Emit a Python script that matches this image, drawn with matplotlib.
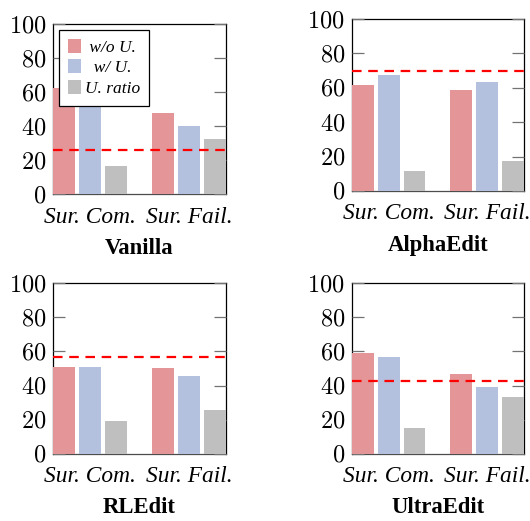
from matplotlib import pyplot as plt
import numpy as np

plt.rcParams['font.family'] = 'Liberation Serif'
plt.rcParams['mathtext.fontset'] = 'cm'

methods = ["Vanilla", "AlphaEdit", "RLEdit", "UltraEdit"]
series_names = ["w/o U.", "w/ U.", "U. ratio"]
group_labels = ["Sur. Com.", "Sur. Fail."]

# values per method: [w/o U., w/ U., U. ratio] for group 1 and group 2
vanilla = [[62.2, 58.0, 16.2], [47.9, 40.1, 32.3]]
alphaedit = [[61.7, 67.7, 11.9], [58.8, 63.2, 17.3]]
rledit = [[50.9, 50.7, 19.4], [50.3, 45.4, 25.4]]
ultraedit = [[59.1, 56.6, 14.9], [46.8, 38.9, 33.3]]
ref_lines = [26.0, 69.8, 56.8, 42.9]

yticks = [0, 20, 40, 60, 80, 100]
ytick_labels = ["$%d$" % v for v in yticks]

colors = ["#E39597", "#B3C1DE", "#BFBFBF"]
# leading spaces to mimic centred legend entries
legend_pad = [" ", "  ", ""]

fig = plt.figure(figsize=(5.30, 5.21), dpi=100)
positions = [
    [0.100, 0.6276, 0.3264, 0.3263],
    [0.664, 0.6334, 0.3245, 0.3301],
    [0.100, 0.1292, 0.3264, 0.3270],
    [0.664, 0.1292, 0.3245, 0.3270],
]
all_data = [vanilla, alphaedit, rledit, ultraedit]

bw = 0.84
group_x = [np.array([0, 1, 2]), np.array([3.8, 4.8, 5.8])]

for k, (name, data, ref, pos) in enumerate(zip(methods, all_data, ref_lines, positions)):
    ax = fig.add_axes(pos)
    for s in range(3):
        xs = [group_x[0][s], group_x[1][s]]
        ys = [data[0][s], data[1][s]]
        ax.bar(xs, ys, width=bw, color=colors[s], zorder=2,
               label=legend_pad[s] + series_names[s])
    ax.axhline(ref, color="red", lw=1.6, dashes=(4.3, 3.0), zorder=4)
    ax.set_xlim(-bw / 2, 5.8 + bw / 2)
    ax.set_ylim(0, 100)
    ax.set_yticks(yticks)
    ax.set_yticklabels(ytick_labels, fontsize=17.5)
    ax.set_xticks([group_x[0][1], group_x[1][1]])
    ax.set_xticklabels(group_labels, fontsize=16.8, style="italic")
    ax.tick_params(axis="x", length=0, pad=9)
    ax.tick_params(axis="y", direction="in", length=8.5, width=0.9,
                   color="0.45", right=True, pad=5)
    for sp in ax.spines.values():
        sp.set_linewidth(0.9)
        sp.set_zorder(1)
    ax.spines["bottom"].set_color("0.3")
    ax.text(0.5, -0.318, name, transform=ax.transAxes, ha="center",
            va="center", fontsize=16.3, fontweight="bold")
    if k == 0:
        leg = ax.legend(loc="upper left", bbox_to_anchor=(0.035, 0.965),
                        borderaxespad=0,
                        fancybox=False, edgecolor="black", framealpha=1,
                        prop={"size": 12.5, "style": "italic"},
                        handlelength=0.75, handleheight=0.88,
                        borderpad=0.5, labelspacing=0.2, handletextpad=0.25)
        leg.get_frame().set_linewidth(0.9)
        leg.set_zorder(5)

plt.savefig("out.png", dpi=100)
